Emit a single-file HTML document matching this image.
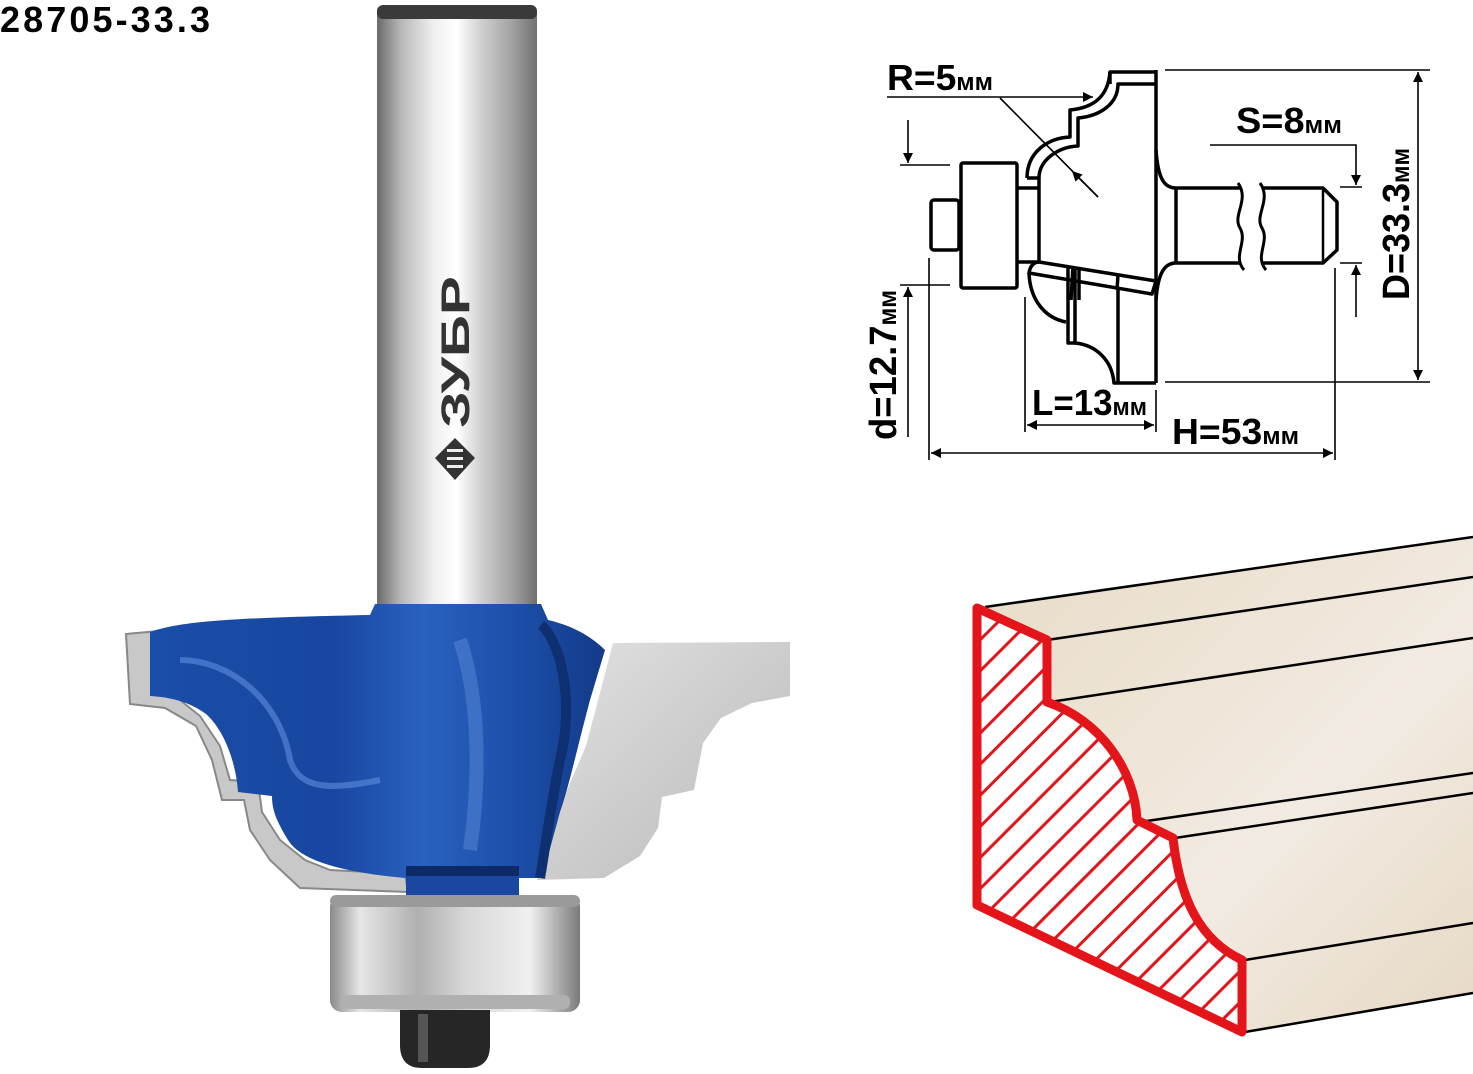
<!DOCTYPE html>
<html><head><meta charset="utf-8"><style>
html,body{margin:0;padding:0;background:#fff}
svg{display:block}
.t{font-family:"Liberation Sans Narrow","Liberation Sans",sans-serif;font-weight:bold;fill:#000}
</style></head><body>
<svg width="1473" height="1074" viewBox="0 0 1473 1074" xmlns="http://www.w3.org/2000/svg">
<defs>
<linearGradient id="shank" x1="0" x2="1" y1="0" y2="0">
<stop offset="0" stop-color="#6a6a6a"/><stop offset="0.15" stop-color="#b8b8b8"/><stop offset="0.35" stop-color="#eeeeee"/><stop offset="0.5" stop-color="#ffffff"/><stop offset="0.65" stop-color="#d0d0d0"/><stop offset="0.85" stop-color="#a0a0a0"/><stop offset="1" stop-color="#707070"/>
</linearGradient>
<linearGradient id="blue" x1="0" x2="1" y1="0" y2="0">
<stop offset="0" stop-color="#1a4ea8"/><stop offset="0.4" stop-color="#1846a0"/><stop offset="0.6" stop-color="#2a62c0"/><stop offset="0.8" stop-color="#1c4faa"/><stop offset="1" stop-color="#133a88"/>
</linearGradient>
<linearGradient id="blade" x1="0" x2="1" y1="0" y2="1">
<stop offset="0" stop-color="#e2e2e2"/><stop offset="1" stop-color="#b8b8b8"/>
</linearGradient>
<linearGradient id="bear" x1="0" x2="1" y1="0" y2="0">
<stop offset="0" stop-color="#8a8a8a"/><stop offset="0.12" stop-color="#e6e6e6"/><stop offset="0.35" stop-color="#b0b0b0"/><stop offset="0.55" stop-color="#d8d8d8"/><stop offset="0.8" stop-color="#f0f0f0"/><stop offset="1" stop-color="#7a7a7a"/>
</linearGradient>
<linearGradient id="wood" x1="0" x2="1" y1="0" y2="1">
<stop offset="0" stop-color="#e8dbc7"/><stop offset="0.6" stop-color="#f2ebe2"/><stop offset="1" stop-color="#e6d8c4"/>
</linearGradient>
<pattern id="hatch" patternUnits="userSpaceOnUse" width="22" height="22" patternTransform="rotate(-45)">
<rect width="22" height="22" fill="#fff"/><rect x="0" y="0" width="22" height="3" fill="#e3151a"/>
</pattern>
<marker id="ar" viewBox="0 0 10 10" refX="10" refY="5" markerWidth="14" markerHeight="10" markerUnits="userSpaceOnUse" orient="auto-start-reverse"><path d="M0,0 L10,5 L0,10 Z" fill="#000"/></marker>
</defs>

<text x="0" y="32" font-family="Liberation Sans, sans-serif" font-weight="bold" font-size="36" textLength="210" fill="#000">28705-33.3</text>

<!-- ROUTER BIT -->
<rect x="377" y="12" width="160" height="600" fill="url(#shank)"/>
<rect x="377" y="5" width="160" height="14" rx="6" fill="#3a3a3a"/>
<text transform="translate(469,428) rotate(-90)" font-family="Liberation Sans, sans-serif" font-weight="bold" font-size="40" fill="#333" textLength="152" lengthAdjust="spacingAndGlyphs">ЗУБР</text>
<path d="M455,438 L475,458 L455,480 L435,458 Z" fill="#333"/>
<rect x="447" y="449" width="16" height="3" fill="#eee"/><rect x="447" y="457" width="16" height="3" fill="#eee"/><rect x="447" y="465" width="16" height="3" fill="#eee"/>

<path d="M613,643 L790,642 L790,696 L752,703 L721,718 L703,743 L694,790 L662,797 L658,828 L640,856 L604,878 L537,880 L559,809 L586,746 Z" fill="url(#blade)"/>
<path d="M126,634 L170,630 L170,692 L200,716 L220,746 L230,780 L258,782 L262,812 L280,840 L305,860 L330,870 L405,874 L408,892 L300,888 L270,860 L250,830 L244,800 L222,800 L212,760 L196,726 L165,708 L130,704 Z" fill="#c8c8c8" stroke="#888" stroke-width="2"/>
<path d="M150,632 C180,622 220,618 370,615 L375,604 L541,604 L548,620 C570,625 590,635 605,650 L590,700 C578,745 568,790 560,812 L542,878 L405,878 C340,872 300,860 288,840 C276,820 272,810 272,796 L238,792 C236,762 224,730 206,714 C190,702 170,697 150,696 Z" fill="url(#blue)"/>
<path d="M541,625 C560,640 575,700 560,760 C550,810 545,850 540,878" stroke="#0e2f70" stroke-width="10" fill="none"/>
<path d="M180,660 C230,660 280,700 290,760 C300,790 330,790 380,780" stroke="#5f8ee0" stroke-width="6" fill="none" opacity="0.6"/>
<path d="M460,640 C480,700 480,780 470,850" stroke="#5a8ad8" stroke-width="14" fill="none" opacity="0.5"/>
<rect x="406" y="866" width="113" height="32" fill="#1a48a0"/>
<rect x="406" y="866" width="113" height="10" fill="#0c2a66"/>
<rect x="330" y="895" width="250" height="117" rx="12" fill="url(#bear)"/>
<rect x="330" y="895" width="250" height="12" rx="6" fill="#9a9a9a"/>
<rect x="340" y="995" width="230" height="14" rx="6" fill="#b0b0b0"/>
<path d="M400,1010 L490,1010 L490,1045 Q490,1068 468,1068 L422,1068 Q400,1068 400,1045 Z" fill="#262626"/>
<rect x="418" y="1014" width="10" height="48" fill="#555"/>

<!-- TECH DRAWING -->
<g stroke="#000" fill="none" stroke-width="3.5" stroke-linejoin="round">
<path d="M1027,178 C1027,152 1048,138 1070,137 L1070,110 C1092,108 1108,98 1110,72 L1156,72"/>
<path d="M1039,178 C1039,160 1058,147 1078,146 L1078,118 C1100,116 1118,104 1118,84 L1156,84"/>
<path d="M1027,178 L1039,178"/>
<path d="M1110,72 L1110,84"/>
<path d="M1039,178 L1039,262"/>
<path d="M1156,70 L1156,383"/>
<path d="M1156,150 C1158,180 1165,188 1176,188 L1240,188"/>
<path d="M1156,300 C1158,272 1165,263 1176,263 L1240,263"/>
<path d="M1176,188 L1176,263"/>
<path d="M1263,188 L1323,188 L1337,202 L1337,250 L1323,263 L1263,263"/>
<path d="M1323,188 L1323,263" stroke-width="2.5"/>
<path d="M1238,183 C1250,200 1232,215 1240,228 C1248,242 1232,256 1244,270" stroke-width="3"/>
<path d="M1260,183 C1272,200 1254,215 1262,228 C1270,242 1254,256 1266,270" stroke-width="3"/>
<path d="M1039,262 L1156,281 L1152,294 L1029,273 C1030,266 1034,262 1039,262 Z"/>
<path d="M1073,266 L1071,300 M1079,267 L1079,300 M1118,275 L1117,290"/>
<path d="M1029,273 C1030,300 1045,318 1066,322"/>
<path d="M1068,268 L1068,343 L1075,343 L1075,268"/>
<path d="M1075,343 C1096,345 1112,360 1114,383 L1156,383"/>
<path d="M1118,290 L1118,383"/>
<path d="M1016,188 L1039,188 M1016,262 L1039,262"/>
<rect x="961" y="163" width="56" height="125" rx="2"/>
<rect x="931" y="200" width="28" height="50" rx="3"/>
</g>
<g stroke="#000" fill="none" stroke-width="1.6">
<path d="M1165,70 L1430,70 M1165,382 L1430,382"/>
<path d="M1418,72 L1418,380" marker-start="url(#ar)" marker-end="url(#ar)"/>
<path d="M1210,145 L1356,145 L1356,185" marker-end="url(#ar)"/>
<path d="M1356,317 L1356,265" marker-end="url(#ar)"/>
<path d="M1340,187 L1362,187 M1340,263 L1362,263"/>
<path d="M908,120 L908,163" marker-end="url(#ar)"/>
<path d="M908,437 L908,287" marker-end="url(#ar)"/>
<path d="M900,165 L950,165 M900,285 L950,285"/>
<path d="M929,258 L929,460 M1335,268 L1335,460"/>
<path d="M931,453 L1333,453" marker-start="url(#ar)" marker-end="url(#ar)"/>
<path d="M1025,297 L1025,432 M1156,390 L1156,432"/>
<path d="M1027,425 L1154,425" marker-start="url(#ar)" marker-end="url(#ar)"/>
<path d="M887,97 L1093,97" marker-end="url(#ar)"/>
<path d="M1000,98 L1098,197"/>
<path d="M1098,197 L1072,171" marker-end="url(#ar)"/>
</g>
<text class="t" x="887" y="90" font-size="36" textLength="106" lengthAdjust="spacingAndGlyphs">R=5<tspan font-size="24">мм</tspan></text>
<text class="t" x="1236" y="133" font-size="36" textLength="106" lengthAdjust="spacingAndGlyphs">S=8<tspan font-size="24">мм</tspan></text>
<text class="t" x="1032" y="415" font-size="36" textLength="115" lengthAdjust="spacingAndGlyphs">L=13<tspan font-size="24">мм</tspan></text>
<text class="t" x="1172" y="444" font-size="36" textLength="127" lengthAdjust="spacingAndGlyphs">H=53<tspan font-size="24">мм</tspan></text>
<text class="t" transform="translate(1409,300) rotate(-90)" font-size="38" textLength="152" lengthAdjust="spacingAndGlyphs">D=33.3<tspan font-size="25">мм</tspan></text>
<text class="t" transform="translate(896,440) rotate(-90)" font-size="38" textLength="150" lengthAdjust="spacingAndGlyphs">d=12.7<tspan font-size="25">мм</tspan></text>

<!-- MOLDING -->
<path d="M977,608 L1473,537 L1473,993 L1242,1032 L1242,960 C1200,940 1180,900 1173,838 L1137,820 C1135,770 1100,720 1047,702 L1047,640 Z" fill="url(#wood)"/>
<g stroke="#000" stroke-width="2.5" fill="none">
<path d="M985,607 L1473,537"/>
<path d="M1047,640 L1473,577"/>
<path d="M1050,702 L1473,638"/>
<path d="M1140,822 L1473,773"/>
<path d="M1175,838 L1473,793"/>
<path d="M1245,960 L1473,923"/>
<path d="M1245,1032 L1473,993"/>
</g>
<path d="M977,608 L1047,640 L1047,702 C1100,720 1135,770 1137,820 L1173,838 C1180,900 1200,940 1242,960 L1242,1032 L977,905 Z" fill="url(#hatch)" stroke="#e3151a" stroke-width="9" stroke-linejoin="round"/>
</svg>
</body></html>
